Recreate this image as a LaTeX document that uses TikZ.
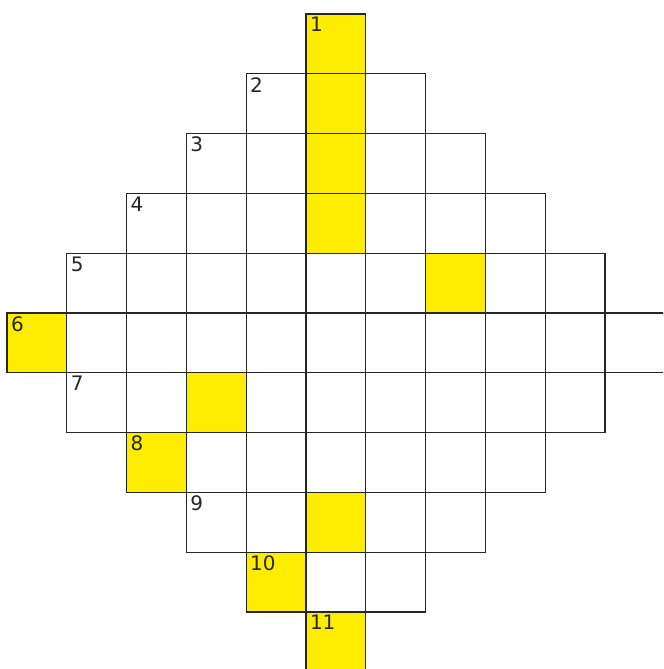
\documentclass[tikz,border=0pt]{standalone}
\usepackage{fontspec}
\setmainfont{DejaVu Sans}
\begin{document}
\begin{tikzpicture}[x=1cm, y=1cm,
    cell/.style={draw=black!85, line width=0.6pt},
    hint/.style={fill=yellow!95!orange},
    num/.style={anchor=north west, inner sep=0pt, text=black!85,
                font=\fontsize{9.5}{11}\selectfont}]
    % Marco del dibujo (recorte como en la imagen)
    \useasboundingbox (-0.117,-10.953) rectangle (10.97,0.234);
    \clip (-0.117,-10.953) rectangle (10.97,0.234);

    % Casillas amarillas
    \foreach \c/\r in {5/0, 5/1, 5/2, 5/3, 7/4, 0/5, 3/6, 2/7, 5/8, 4/9, 5/10}
        \fill[hint] (\c,-\r) rectangle ++(1,-1);

    % Filas del rombo con su numero en la primera casilla
    \foreach \r in {0,...,10} {
        \pgfmathtruncatemacro\s{abs(5-\r)}
        \pgfmathtruncatemacro\e{10-\s}
        \pgfmathtruncatemacro\n{\r+1}
        \foreach \c in {\s,...,\e}
            \draw[cell] (\c,-\r) rectangle ++(1,-1);
        \node[num] (n\n) at ([xshift=0.06cm, yshift=-0.05cm]\s,-\r) {\n};
    }
\end{tikzpicture}
\end{document}
